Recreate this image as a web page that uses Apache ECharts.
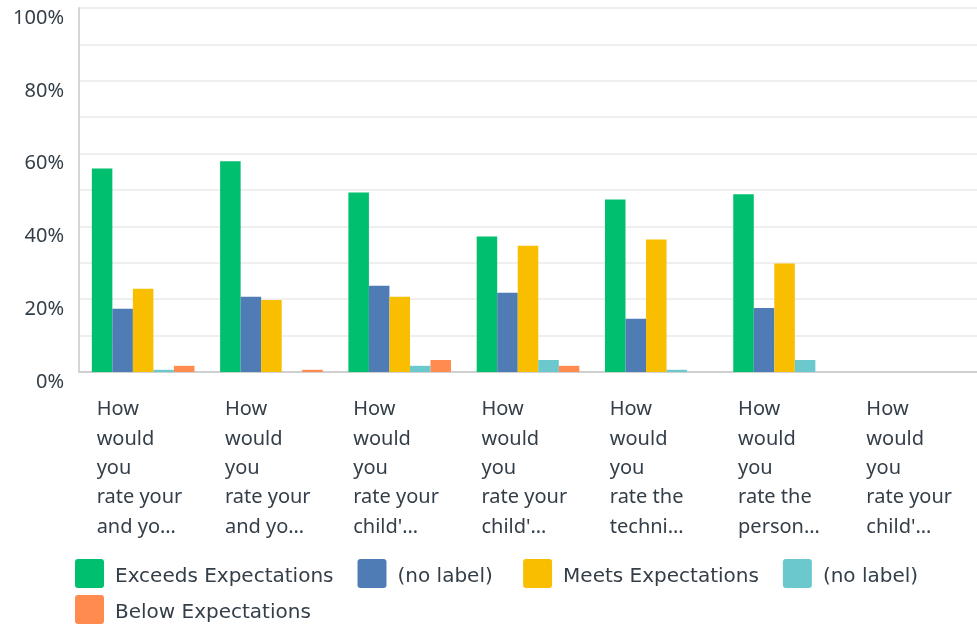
<!DOCTYPE html>
<html>
<head>
<meta charset="utf-8">
<script src="https://cdn.jsdelivr.net/npm/echarts@6/dist/echarts.min.js"></script>
<style>html,body{margin:0;padding:0;background:#fff;}#c{width:977px;height:628px;}</style>
</head>
<body>
<div id="c"></div>
<script>
const categories = [
  "How\nwould\nyou\nrate your\nand yo…",
  "How\nwould\nyou\nrate your\nand yo…",
  "How\nwould\nyou\nrate your\nchild'…",
  "How\nwould\nyou\nrate your\nchild'…",
  "How\nwould\nyou\nrate the\ntechni…",
  "How\nwould\nyou\nrate the\nperson…",
  "How\nwould\nyou\nrate your\nchild'…"
];
const seriesNames = ["Exceeds Expectations", "(no label)\u00a0", "Meets Expectations", "(no label)", "Below Expectations"];
const exceeds = [55.9, 57.9, 49.3, 37.2, 47.4, 48.8, 0];
const noLabelA = [17.4, 20.7, 23.7, 21.8, 14.6, 17.6, 0];
const meets = [22.9, 19.8, 20.7, 34.7, 36.4, 29.8, 0];
const noLabelB = [0.6, 0, 1.7, 3.3, 0.6, 3.3, 0];
const below = [1.7, 0.6, 3.3, 1.7, 0, 0, 0];
const yTickLabels = ["0%", "20%", "40%", "60%", "80%", "100%"];

const colors = ['#00bf6f', '#507cb6', '#f9be00', '#6bc8cd', '#ff8b4f'];
const textColor = '#333e48';
const allData = [exceeds, noLabelA, meets, noLabelB, below];

const legendBase = {
  padding: 0, itemWidth: 29, itemHeight: 29, itemGap: 24,
  icon: 'path://M3,0H26Q29,0 29,3V26Q29,29 26,29H3Q0,29 0,26V3Q0,0 3,0Z',
  formatter: '{t|{name}}',
  textStyle: {
    fontFamily: 'DejaVu Sans', fontSize: 20, color: textColor, padding: [0, 0, 0, 6],
    rich: { t: { fontFamily: 'DejaVu Sans', fontSize: 20, color: textColor, padding: [6, 0, 0, 0] } }
  }
};

const chart = echarts.init(document.getElementById('c'));
chart.setOption({
  animation: false,
  color: colors,
  grid: { left: 79, top: 8, width: 903, height: 364, containLabel: false },
  legend: [
    Object.assign({}, legendBase, { left: 75, top: 559, data: seriesNames.slice(0, 4) }),
    Object.assign({}, legendBase, { left: 75, top: 595, data: seriesNames.slice(4) })
  ],
  xAxis: {
    type: 'category',
    data: categories,
    axisLine: { show: true, lineStyle: { color: '#d0d0d0', width: 2 } },
    axisTick: { show: false },
    axisLabel: {
      interval: 0, margin: 23, width: 93, overflow: 'none', align: 'center', verticalAlign: 'top',
      formatter: v => v.split('\n').map(l => '{a|' + l + '}').join('\n'),
      rich: { a: { align: 'left', fontFamily: 'Noto Sans', fontSize: 20, color: textColor, lineHeight: 29.3 } }
    }
  },
  yAxis: {
    type: 'value', min: 0, max: 100, interval: 10,
    axisLine: { show: true, lineStyle: { color: '#d6d6d6', width: 2 } },
    axisTick: { show: false },
    splitLine: { show: true, lineStyle: { color: '#efefef', width: 2 } },
    axisLabel: {
      margin: 15, fontFamily: 'Noto Sans', fontSize: 20, color: textColor,
      verticalAlign: 'top',
      formatter: v => (v % 20 === 0 ? yTickLabels[v / 20] : '')
    }
  },
  series: allData.map((d, i) => ({
    name: seriesNames[i],
    type: 'bar',
    data: d,
    barGap: '0%',
    barCategoryGap: '20%',
    itemStyle: { color: colors[i] }
  }))
});
</script>
</body>
</html>
